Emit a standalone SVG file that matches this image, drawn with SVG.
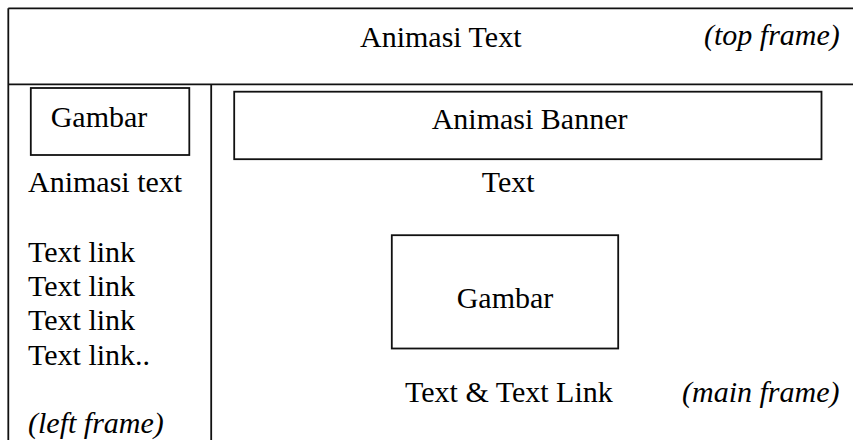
<svg xmlns="http://www.w3.org/2000/svg" width="853" height="440" viewBox="0 0 853 440">
<style>
.ln{stroke:#111;stroke-width:1.8;fill:none}
.bx{stroke:#111;stroke-width:1.8;fill:#fff}
.t{font-family:"Liberation Serif","Times New Roman",serif;font-size:30px;fill:#000}
.i{font-style:italic}
</style>
<rect width="853" height="440" fill="#fff"/>
<g id="frames">
<line class="ln" x1="8.3" y1="8.3" x2="853" y2="8.3"/>
<line class="ln" x1="8.3" y1="8.3" x2="8.3" y2="440"/>
<line class="ln" x1="8.3" y1="84.3" x2="853" y2="84.3"/>
<line class="ln" x1="211.2" y1="84.3" x2="211.2" y2="440"/>
</g>
<g id="top-frame">
<text class="t" x="360" y="46.7">Animasi Text</text>
<text class="t i" x="704" y="45">(top frame)</text>
</g>
<g id="left-frame">
<g id="left-gambar">
<rect class="bx" x="30.8" y="88" width="158.5" height="67"/>
<text class="t" x="50.7" y="127">Gambar</text>
</g>
<text class="t" x="28" y="191.7">Animasi text</text>
<text class="t" x="28" y="261.7">Text link</text>
<text class="t" x="28" y="295.7">Text link</text>
<text class="t" x="28" y="330">Text link</text>
<text class="t" x="28" y="365">Text link..</text>
<text class="t i" x="28" y="433">(left frame)</text>
</g>
<g id="main-frame">
<g id="banner">
<rect class="bx" x="234.2" y="91.7" width="587.3" height="67.5"/>
<text class="t" x="431.7" y="129.3">Animasi Banner</text>
</g>
<text class="t" x="481.7" y="191.7">Text</text>
<g id="main-gambar">
<rect class="bx" x="391.8" y="235.2" width="226.4" height="113.3"/>
<text class="t" x="456.7" y="308.3">Gambar</text>
</g>
<text class="t" x="405" y="402.3">Text &amp; Text Link</text>
<text class="t i" x="682" y="401.7">(main frame)</text>
</g>
</svg>
